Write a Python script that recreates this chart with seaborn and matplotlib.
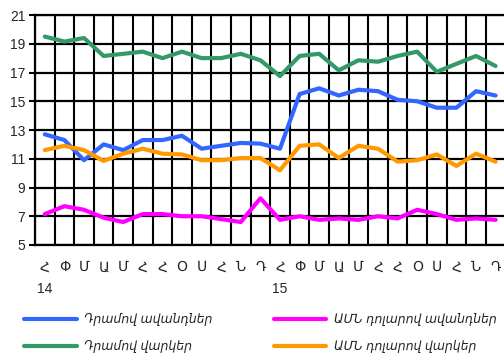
import numpy as np
import pandas as pd
import seaborn as sns
import matplotlib
matplotlib.use("Agg")
import matplotlib.pyplot as plt
from matplotlib.ticker import FixedLocator

# Monthly rates, Jan 2014 - Dec 2015
months = ["Հ", "Փ", "Մ", "Ա", "Մ", "Հ", "Հ", "Օ", "Ս", "Հ", "Ն", "Դ"] * 2
years = ["14", "15"]

amd_deposits = [12.7, 12.3, 10.9, 12.0, 11.6, 12.3, 12.3, 12.6, 11.7, 11.9, 12.1, 12.05,
                11.7, 15.5, 15.9, 15.4, 15.8, 15.7, 15.1, 15.0, 14.55, 14.55, 15.7, 15.4]
amd_loans = [19.5, 19.15, 19.4, 18.15, 18.3, 18.45, 18.0, 18.45, 18.0, 18.0, 18.3, 17.85,
             16.75, 18.15, 18.3, 17.15, 17.85, 17.75, 18.15, 18.45, 17.05, 17.6, 18.15, 17.45]
usd_deposits = [7.15, 7.7, 7.45, 6.9, 6.6, 7.15, 7.15, 7.0, 7.0, 6.8, 6.6, 8.25,
                6.75, 7.0, 6.75, 6.85, 6.75, 7.0, 6.85, 7.45, 7.15, 6.75, 6.85, 6.75]
usd_loans = [11.6, 11.9, 11.6, 10.85, 11.35, 11.7, 11.35, 11.3, 10.9, 10.9, 11.05, 11.05,
             10.2, 11.9, 12.0, 11.05, 11.9, 11.7, 10.8, 10.9, 11.3, 10.5, 11.35, 10.8]

series_names = ["Դրամով ավանդներ", "Դրամով վարկեր",
                "ԱՄՆ դոլարով ավանդներ", "ԱՄՆ դոլարով վարկեր"]
series_values = [amd_deposits, amd_loans, usd_deposits, usd_loans]
colors = ["#3366ff", "#339966", "#ff00ff", "#ff9900"]

n = len(months)
frames = [pd.DataFrame({"idx": np.arange(n), "value": vals, "series": name})
          for name, vals in zip(series_names, series_values)]
df = pd.concat(frames, ignore_index=True)

sns.set_style("white")
plt.rcParams["font.family"] = ["Liberation Sans", "DejaVu Sans"]

fig = plt.figure(figsize=(5.04, 3.63), dpi=100)
ax = fig.add_axes([35 / 504, 1 - 245 / 363, 470.4 / 504, 230 / 363])

sns.lineplot(data=df, x="idx", y="value", hue="series", hue_order=series_names,
             palette=colors, linewidth=3, ax=ax, legend=False, zorder=3)

ax.set_xlim(-0.5, n - 0.5)
ax.set_ylim(5, 21)
ax.set_xlabel("")
ax.set_ylabel("")

# category boundaries carry the grid, category centres carry the labels
ax.xaxis.set_major_locator(FixedLocator(np.arange(n)))
ax.set_xticklabels(months, fontsize=10)
ax.xaxis.set_minor_locator(FixedLocator(np.arange(-0.5, n, 1.0)))
ax.tick_params(axis="x", which="major", length=0, pad=11)
ax.tick_params(axis="x", which="minor", direction="inout", length=6, width=1.5, color="black")
ax.grid(True, axis="x", which="minor", color="black", linewidth=1.5)

ax.set_yticks(np.arange(5, 22, 2))
ax.tick_params(axis="y", which="major", direction="out", length=4, width=1.5,
               color="black", labelsize=10, pad=3, left=True)
ax.grid(True, axis="y", which="major", color="black", linewidth=1.6)

for side in ["left", "bottom", "top"]:
    ax.spines[side].set_visible(True)
    ax.spines[side].set_color("black")
    ax.spines[side].set_linewidth(1.6)
ax.spines["right"].set_visible(False)

for i, yr in enumerate(years):
    ax.text(i * 12, -0.19, yr, transform=ax.get_xaxis_transform(),
            ha="center", va="center", fontsize=10)

handles = [plt.Line2D([], [], color=c, linewidth=3) for c in colors]
# column-major order: left column blue, green; right column magenta, orange
fig.legend(handles, series_names,
           loc="upper left", bbox_to_anchor=(13 / 504, 1 - 302 / 363), ncol=2,
           frameon=False, prop={"style": "italic", "size": 9},
           handlelength=4.2, handletextpad=0.6, columnspacing=4.9, labelspacing=1.1)

fig.savefig("out.png", dpi=100)
